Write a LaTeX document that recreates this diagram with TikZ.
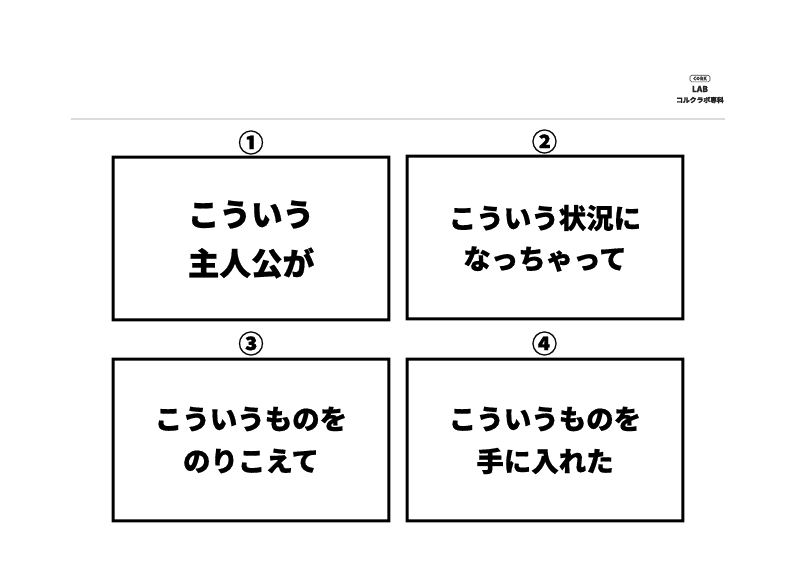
\documentclass[tikz,border=0pt]{standalone}
\usepackage{fontspec}
\newfontfamily\cjk[BoldFont={Noto Sans CJK JP Black},BoldFeatures={FakeBold=0.6}]{Noto Sans CJK JP}
\tikzset{
  x=0.75pt,y=-0.75pt,
  panel/.style={fill=black,even odd rule},
  big/.style={font=\cjk\bfseries\fontsize{23.7}{28}\selectfont,text=black,inner sep=0pt},
  mid/.style={font=\cjk\bfseries\fontsize{20.6}{25}\selectfont,text=black,inner sep=0pt},
  num/.style={font=\cjk\bfseries\fontsize{19}{22}\selectfont,text=black,inner sep=0pt},
  rulegrey/.style={draw=black!14,line width=0.8pt},
  logotext/.style={font=\cjk\bfseries\fontsize{5.1}{6}\selectfont,text=black!85,inner sep=0pt},
  logobox/.style={draw=black!75,line width=0.5pt,rounded corners=1.2pt,inner sep=0pt,minimum width=15pt,minimum height=5pt,font=\cjk\bfseries\fontsize{3.6}{4}\selectfont,text=black!80}
}
\begin{document}
\begin{tikzpicture}
\useasboundingbox (0,0) rectangle (796,564);
\fill[white] (0,0) rectangle (796,564);
\draw[rulegrey] (71,119) -- (725,119);
\fill[panel] (111.6,155.6) rectangle (390.4,321.4) (114.6,158.6) rectangle (387.4,318.4);
\fill[panel] (405.6,154.6) rectangle (684.4,320.4) (408.6,157.6) rectangle (681.4,317.4);
\fill[panel] (111.6,357.6) rectangle (390.4,522.4) (114.6,360.6) rectangle (387.4,519.4);
\fill[panel] (405.6,357.6) rectangle (684.4,522.4) (408.6,360.6) rectangle (681.4,519.4);
\node[num] (n1) at (251,142.5) {①};
\node[num] (n2) at (544.5,141.5) {②};
\node[num] (n3) at (251,343.5) {③};
\node[num] (n4) at (544.5,343.5) {④};
\node[big] (a1) at (251,214.5) {こういう};
\node[big] (a2) at (251,263) {主人公が};
\node[mid] (b1) at (545,218) {こういう状況に};
\node[mid] (b2) at (545,259) {なっちゃって};
\node[mid] (c1) at (251,419) {こういうものを};
\node[mid] (c2) at (251,461) {のりこえて};
\node[mid] (d1) at (545,419) {こういうものを};
\node[mid] (d2) at (545,461) {手に入れた};
\node[logobox] (lg) at (700,78.5) {CORK};
\node[logotext,font=\cjk\bfseries\fontsize{6.2}{8}\selectfont] (lb) at (700,89) {LAB};
\node[logotext] (lj) at (700,100) {コルクラボ専科};
\end{tikzpicture}
\end{document}
